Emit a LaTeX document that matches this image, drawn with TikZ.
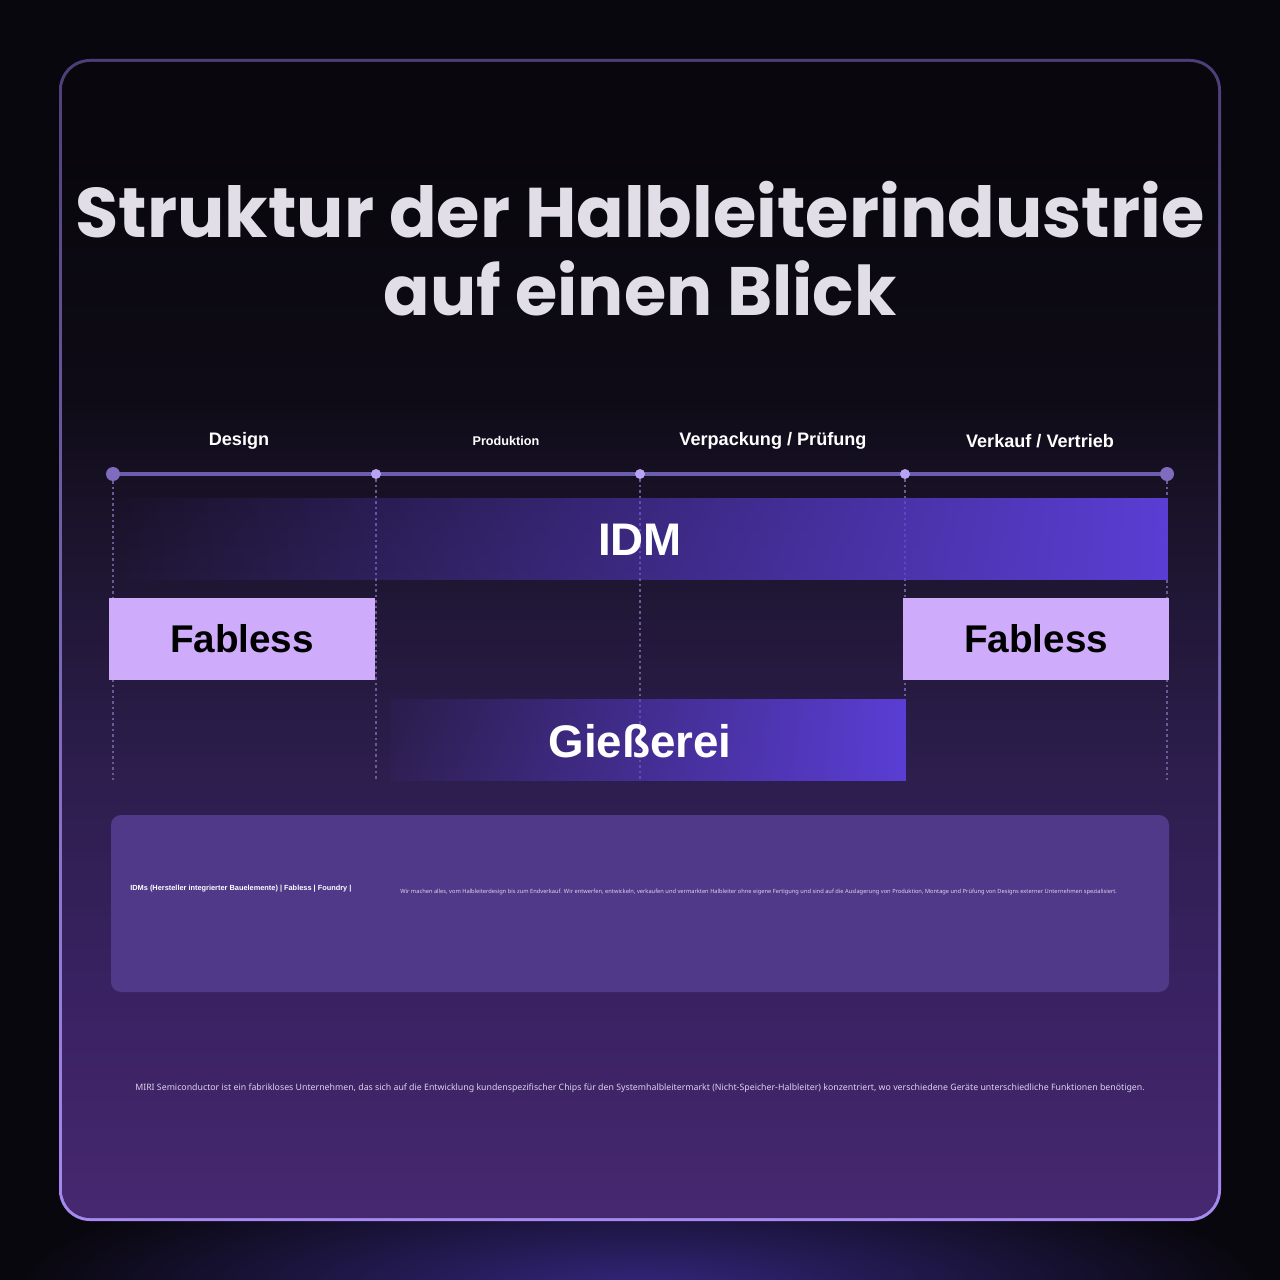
\documentclass[tikz,border=0pt]{standalone}
\usepackage{fontspec}
\setmainfont{Noto Sans}
\newfontfamily\titlefont{Poppins}
\newfontfamily\boxfont{Liberation Sans}
\usepackage{xcolor}
\usetikzlibrary{fadings}
\definecolor{bgDark}{RGB}{9, 7, 14}
\definecolor{bgGlow}{RGB}{52, 38, 125}
\definecolor{card0}{RGB}{70, 40, 112}
\definecolor{card1}{RGB}{58, 34, 98}
\definecolor{card2}{RGB}{45, 30, 78}
\definecolor{card3}{RGB}{28, 20, 45}
\definecolor{card4}{RGB}{14, 11, 22}
\definecolor{card5}{RGB}{9, 7, 13}
\definecolor{frameTop}{RGB}{76, 63, 120}
\definecolor{frameBottom}{RGB}{165, 138, 240}
\definecolor{titleGray}{RGB}{226, 222, 232}
\definecolor{lineViolet}{RGB}{110, 92, 174}
\definecolor{dotLight}{RGB}{184, 162, 242}
\definecolor{dotEnd}{RGB}{127, 108, 191}
\definecolor{guideViolet}{RGB}{104, 92, 148}
\definecolor{idmViolet}{RGB}{91, 62, 213}
\definecolor{fablessLilac}{RGB}{207, 171, 252}
\definecolor{infoViolet}{RGB}{81, 57, 138}
\definecolor{noteGray}{RGB}{220, 212, 234}

\pgfdeclareverticalshading{cardshade}{100bp}{color(0bp)=(card0); color(25bp)=(card0); color(34.5bp)=(card1); color(44bp)=(card2); color(54.5bp)=(card3); color(60.5bp)=(card4); color(71bp)=(card5); color(100bp)=(card5)}
\tikzfading[name=barfade, left color=transparent!100, middle color=transparent!45, right color=transparent!0]
\tikzfading[name=foundryfade, left color=transparent!95, middle color=transparent!35, right color=transparent!0]

\begin{document}
\begin{tikzpicture}[x=0.02cm, y=-0.02cm,
    stage/.style={text=white, font=\boxfont\bfseries\fontsize{10.3}{12}\selectfont},
    tick/.style={circle, fill=dotLight, inner sep=0pt, minimum size=0.2cm},
    endtick/.style={circle, fill=dotEnd, inner sep=0pt, minimum size=0.28cm},
    guide/.style={guideViolet, line width=0.05cm, dash pattern=on 0.05cm off 0.06cm},
    fablessbox/.style={fill=fablessLilac, minimum width=5.32cm, minimum height=1.64cm, inner sep=0pt, font=\boxfont\bfseries\fontsize{22}{26}\selectfont},
    barlabel/.style={text=white, font=\boxfont\bfseries\fontsize{26}{30}\selectfont}]
    \useasboundingbox (0,0) rectangle (1280,1280);

    % Background and card
    \fill[bgDark] (0,0) rectangle (1280,1280);
    \shade[inner color=bgGlow, outer color=bgDark] (640,1290) ellipse (620 and 130);
    \shade[top color=frameTop, bottom color=frameBottom, rounded corners=0.62cm] (59,59) rectangle (1221,1221);
    \shade[shading=cardshade, rounded corners=0.56cm] (62,62) rectangle (1218,1218);

    % Title
    \node[text=titleGray, font=\titlefont\bfseries\fontsize{40}{44}\selectfont] (title1) at (640,210) {Struktur der Halbleiterindustrie};
    \node[text=titleGray, font=\titlefont\bfseries\fontsize{39}{44}\selectfont] (title2) at (640,288) {auf einen Blick};

    % Stages
    \node[stage] (design) at (239,441) {Design};
    \node[stage, font=\boxfont\bfseries\fontsize{7.2}{9}\selectfont] (prod) at (506,441) {Produktion};
    \node[stage] (pack) at (773,441) {Verpackung / Prüfung};
    \node[stage] (sales) at (1040,441) {Verkauf / Vertrieb};

    % Timeline
    \draw[lineViolet, line width=0.08cm] (113,474) -- (1167,474);
    \node[endtick] (t1) at (113,474) {};
    \node[tick] (t2) at (376,474) {};
    \node[tick] (t3) at (640,474) {};
    \node[tick] (t4) at (905,474) {};
    \node[endtick] (t5) at (1167,474) {};
    \foreach \n/\x in {t1/113, t2/376, t3/640, t4/905, t5/1167}
        \draw[guide] (\n.south) -- (\x,780);

    % IDM
    \fill[idmViolet, path fading=barfade] (113,498) rectangle (1170,580);
    \node[barlabel] (idm) at (640,540) {IDM};

    % Fabless
    \node[fablessbox] (fabL) at (242,639) {Fabless};
    \node[fablessbox] (fabR) at (1036,639) {Fabless};

    % Foundry
    \fill[idmViolet, path fading=foundryfade] (390,699) rectangle (906,781);
    \node[barlabel] (foundry) at (640,741) {Gießerei};

    % Info box
    \fill[infoViolet, rounded corners=0.2cm] (111,815) rectangle (1169,992);
    \node[anchor=west, text=white, font=\boxfont\bfseries\fontsize{4.2}{5}\selectfont, inner sep=0pt] (infokey) at (130,889) {IDMs (Hersteller integrierter Bauelemente) | Fabless | Foundry |};
    \node[anchor=west, text=noteGray, font=\fontsize{3.25}{4}\selectfont, inner sep=0pt] (infotext) at (400,892) {Wir machen alles, vom Halbleiterdesign bis zum Endverkauf. Wir entwerfen, entwickeln, verkaufen und vermarkten Halbleiter ohne eigene Fertigung und sind auf die Auslagerung von Produktion, Montage und Prüfung von Designs externer Unternehmen spezialisiert.};

    % Note
    \node[text=noteGray, font=\fontsize{5}{6}\selectfont] (note) at (640,1088) {MIRI Semiconductor ist ein fabrikloses Unternehmen, das sich auf die Entwicklung kundenspezifischer Chips für den Systemhalbleitermarkt (Nicht-Speicher-Halbleiter) konzentriert, wo verschiedene Geräte unterschiedliche Funktionen benötigen.};
\end{tikzpicture}
\end{document}
